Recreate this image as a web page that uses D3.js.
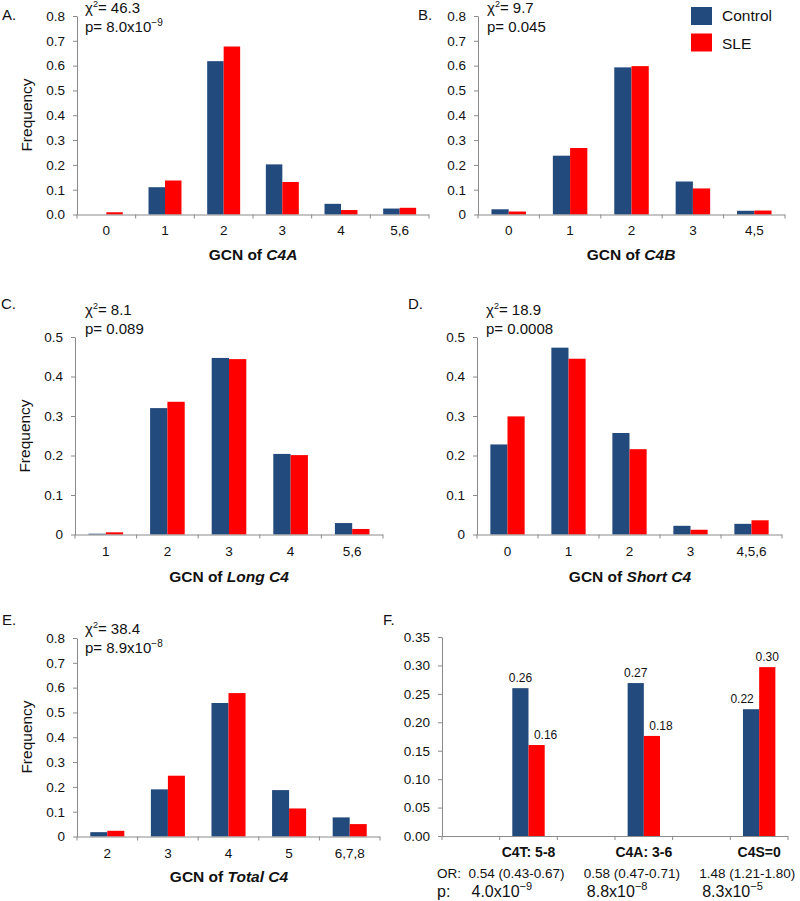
<!DOCTYPE html>
<html><head><meta charset="utf-8">
<script src="https://cdn.jsdelivr.net/npm/d3@7"></script>
<style>body{margin:0;background:#fff} svg text{font-family:Arial,Helvetica,sans-serif;fill:#111}</style>
</head><body><svg id="c" width="800" height="901"></svg>
<script>
// ---------- data ----------
const seriesNames = ["Control", "SLE"];
const seriesColors = ["#234a7c", "#ff0000"];

const catsA = ["0", "1", "2", "3", "4", "5,6"];
const controlA = [0, 0.110, 0.618, 0.202, 0.043, 0.024];
const sleA = [0.009, 0.137, 0.677, 0.131, 0.018, 0.027];

const catsB = ["0", "1", "2", "3", "4,5"];
const controlB = [0.021, 0.237, 0.593, 0.133, 0.015];
const sleB = [0.012, 0.268, 0.598, 0.105, 0.016];

const catsC = ["1", "2", "3", "4", "5,6"];
const controlC = [0.002, 0.320, 0.447, 0.204, 0.029];
const sleC = [0.0055, 0.336, 0.444, 0.201, 0.014];

const catsD = ["0", "1", "2", "3", "4,5,6"];
const controlD = [0.228, 0.473, 0.257, 0.022, 0.027];
const sleD = [0.299, 0.445, 0.216, 0.012, 0.036];

const catsE = ["2", "3", "4", "5", "6,7,8"];
const controlE = [0.0175, 0.190, 0.538, 0.187, 0.077];
const sleE = [0.023, 0.245, 0.578, 0.113, 0.050];

const catsF = ["", "C4T: 5-8", "", "C4A: 3-6", "", "C4S=0"];
const controlF = [null, 0.260, null, 0.269, null, 0.223];
const sleF = [null, 0.160, null, 0.176, null, 0.297];
const controlLabelsF = [null, "0.26", null, "0.27", null, "0.22"];
const sleLabelsF = [null, "0.16", null, "0.18", null, "0.30"];
const orTextF = ["0.54 (0.43-0.67)", "0.58 (0.47-0.71)", "1.48 (1.21-1.80)"];
const pMantF = ["4.0", "8.8", "8.3"];
const pExpF = ["\u22129", "\u22128", "\u22125"];

const ticks08 = [0, 0.1, 0.2, 0.3, 0.4, 0.5, 0.6, 0.7, 0.8];
const ticks05 = [0, 0.1, 0.2, 0.3, 0.4, 0.5];
const ticksF = [0, 0.05, 0.10, 0.15, 0.20, 0.25, 0.30, 0.35];

const chiVals = ["46.3", "9.7", "8.1", "18.9", "38.4"];
const pMant = ["8.0x10", "0.045", "0.089", "0.0008", "8.9x10"];
const pExp = ["\u22129", "", "", "", "\u22128"];
const letters = ["A.", "B.", "C.", "D.", "E.", "F."];
const titleNames = ["C4A", "C4B", "Long C4", "Short C4", "Total C4"];

// ---------- drawing ----------
const svg = d3.select("#c");
const axisColor = "#8a8a8a";
const f1 = d => d === 0 ? "0" : d3.format(".1f")(d);

function panel(o) {
  const g = svg.append("g");
  const x = d3.scaleBand().domain(d3.range(o.cats.length)).range([o.x0, o.x1]);
  const xs = d3.scaleBand().domain([0, 1]).range([0, x.bandwidth()]).paddingInner(0).paddingOuter(0.78);
  const y = d3.scaleLinear().domain([0, o.ymax]).range([o.yb, o.yt]);

  const ya = g.append("g").attr("transform", `translate(${o.x0},0)`)
    .call(d3.axisLeft(y).tickValues(o.ticks).tickFormat(o.fmt).tickSize(4).tickSizeOuter(0).tickPadding(8));
  ya.selectAll("path,line").attr("stroke", axisColor);
  ya.selectAll("text").attr("font-size", 13.5).attr("fill", "#111")
    .style("font-family", "Arial,Helvetica,sans-serif");

  [o.c, o.s].forEach((vals, si) => {
    g.selectAll(null).data(vals.map((v, i) => ({ v, i })).filter(d => d.v != null))
      .enter().append("rect")
      .attr("x", d => x(d.i) + xs(si))
      .attr("width", xs.bandwidth())
      .attr("y", d => y(d.v))
      .attr("height", d => y(0) - y(d.v))
      .attr("fill", seriesColors[si]);
  });

  // x axis (Excel style: ticks on category boundaries)
  g.append("line").attr("x1", o.x0).attr("x2", o.x1).attr("y1", o.yb + 0.5).attr("y2", o.yb + 0.5).attr("stroke", axisColor);
  const bounds = d3.range(o.cats.length).map(i => x(i)).concat([o.x1]);
  g.selectAll(null).data(bounds).enter().append("line")
    .attr("x1", d => d).attr("x2", d => d).attr("y1", o.yb).attr("y2", o.yb + 4).attr("stroke", axisColor);
  g.selectAll(null).data(o.cats).enter().append("text")
    .attr("x", (d, i) => x(i) + x.bandwidth() / 2).attr("y", o.yb + o.lblDy)
    .attr("text-anchor", "middle").attr("font-size", o.catBold ? 14 : 13.5)
    .attr("font-weight", o.catBold ? "bold" : null).text(d => d);
  return { x, xs, y, g };
}

function stats(i, x, yb) {
  const t1 = svg.append("text").attr("x", x).attr("y", yb).attr("font-size", 15);
  t1.append("tspan").text("\u03c7");
  t1.append("tspan").attr("font-size", 9).attr("dy", -6).text("2");
  t1.append("tspan").attr("dy", 6).text("= " + chiVals[i]);
  const t2 = svg.append("text").attr("x", x).attr("y", yb + 19).attr("font-size", 15);
  t2.append("tspan").text("p= " + pMant[i]);
  if (pExp[i]) t2.append("tspan").attr("font-size", 10).attr("dy", -6).text(pExp[i]);
}
function title(i, cx, yb) {
  const t = svg.append("text").attr("x", cx).attr("y", yb).attr("text-anchor", "middle")
    .attr("font-size", 15.5).attr("font-weight", "bold");
  t.append("tspan").text("GCN of ");
  t.append("tspan").attr("font-style", "italic").text(titleNames[i]);
}
function freq(x, cy) {
  svg.append("text").attr("transform", `translate(${x},${cy}) rotate(-90)`)
    .attr("text-anchor", "middle").attr("dominant-baseline", "central").attr("font-size", 15.5).text("Frequency");
}
function letter(i, x, y) {
  svg.append("text").attr("x", x).attr("y", y).attr("font-size", 15).text(letters[i]);
}

// A
const pA = panel({ cats: catsA, c: controlA, s: sleA, x0: 77, x1: 429, yt: 16, yb: 214.5, ymax: 0.8, ticks: ticks08, fmt: d3.format(".1f"), lblDy: 20 });
letter(0, 2, 20); stats(0, 85, 13); title(0, 253, 260); freq(26, 115);
// B
const pB = panel({ cats: catsB, c: controlB, s: sleB, x0: 478, x1: 785, yt: 16, yb: 214.5, ymax: 0.8, ticks: ticks08, fmt: f1, lblDy: 20 });
letter(1, 418, 20); stats(1, 487, 13); title(1, 631, 260);
// legend
seriesNames.forEach((n, i) => {
  svg.append("rect").attr("x", 691).attr("y", 7 + i * 26.5).attr("width", 21).attr("height", 18).attr("fill", seriesColors[i]);
  svg.append("text").attr("x", 722).attr("y", 21 + i * 27.5).attr("font-size", 15.5).text(n);
});
// C
const pC = panel({ cats: catsC, c: controlC, s: sleC, x0: 75, x1: 383, yt: 337, yb: 534.5, ymax: 0.5, ticks: ticks05, fmt: f1, lblDy: 21 });
letter(2, 1, 309); stats(2, 85, 315); title(2, 229, 582); freq(24, 436);
// D
const pD = panel({ cats: catsD, c: controlD, s: sleD, x0: 477, x1: 782, yt: 337, yb: 534.5, ymax: 0.5, ticks: ticks05, fmt: f1, lblDy: 21 });
letter(3, 408, 309); stats(3, 486, 315); title(3, 630, 582);
// E
const pE = panel({ cats: catsE, c: controlE, s: sleE, x0: 77, x1: 380, yt: 638, yb: 836.5, ymax: 0.8, ticks: ticks08, fmt: f1, lblDy: 21 });
letter(4, 2, 625); stats(4, 85, 634); title(4, 229, 882); freq(26, 737);
// F
const pF = panel({ cats: catsF, c: controlF, s: sleF, x0: 442, x1: 788, yt: 637, yb: 836, ymax: 0.35, ticks: ticksF, fmt: d3.format(".2f"), lblDy: 21, catBold: true });
letter(5, 383, 625);
[[controlF, controlLabelsF, 0], [sleF, sleLabelsF, 1]].forEach(([vals, labs, si]) => {
  const other = si === 0 ? sleF : controlF;
  vals.forEach((v, i) => {
    if (v == null) return;
    const cx = pF.x(i) + pF.xs(si) + pF.xs.bandwidth() / 2;
    const shift = v < other[i] ? (si === 0 ? -9 : 9) : 0;
    svg.append("text").attr("x", cx + shift).attr("y", pF.y(v) - 6)
      .attr("text-anchor", "middle").attr("font-size", 12).text(labs[i]);
  });
});
svg.append("text").attr("x", 437).attr("y", 878).attr("font-size", 13.5).text("OR:");
svg.append("text").attr("x", 437).attr("y", 897).attr("font-size", 16).text("p:");
catsF.forEach((c, i) => {
  if (!c) return;
  const k = (i - 1) / 2;
  const cx = pF.x(i) + pF.x.bandwidth() / 2;
  svg.append("text").attr("x", cx - 60).attr("y", 878).attr("font-size", 13.5).text(orTextF[k]);
  const t = svg.append("text").attr("x", cx - 57).attr("y", 897).attr("font-size", 16);
  t.append("tspan").text(pMantF[k] + "x10");
  t.append("tspan").attr("font-size", 11).attr("dy", -7).text(pExpF[k]);
});
</script></body></html>
